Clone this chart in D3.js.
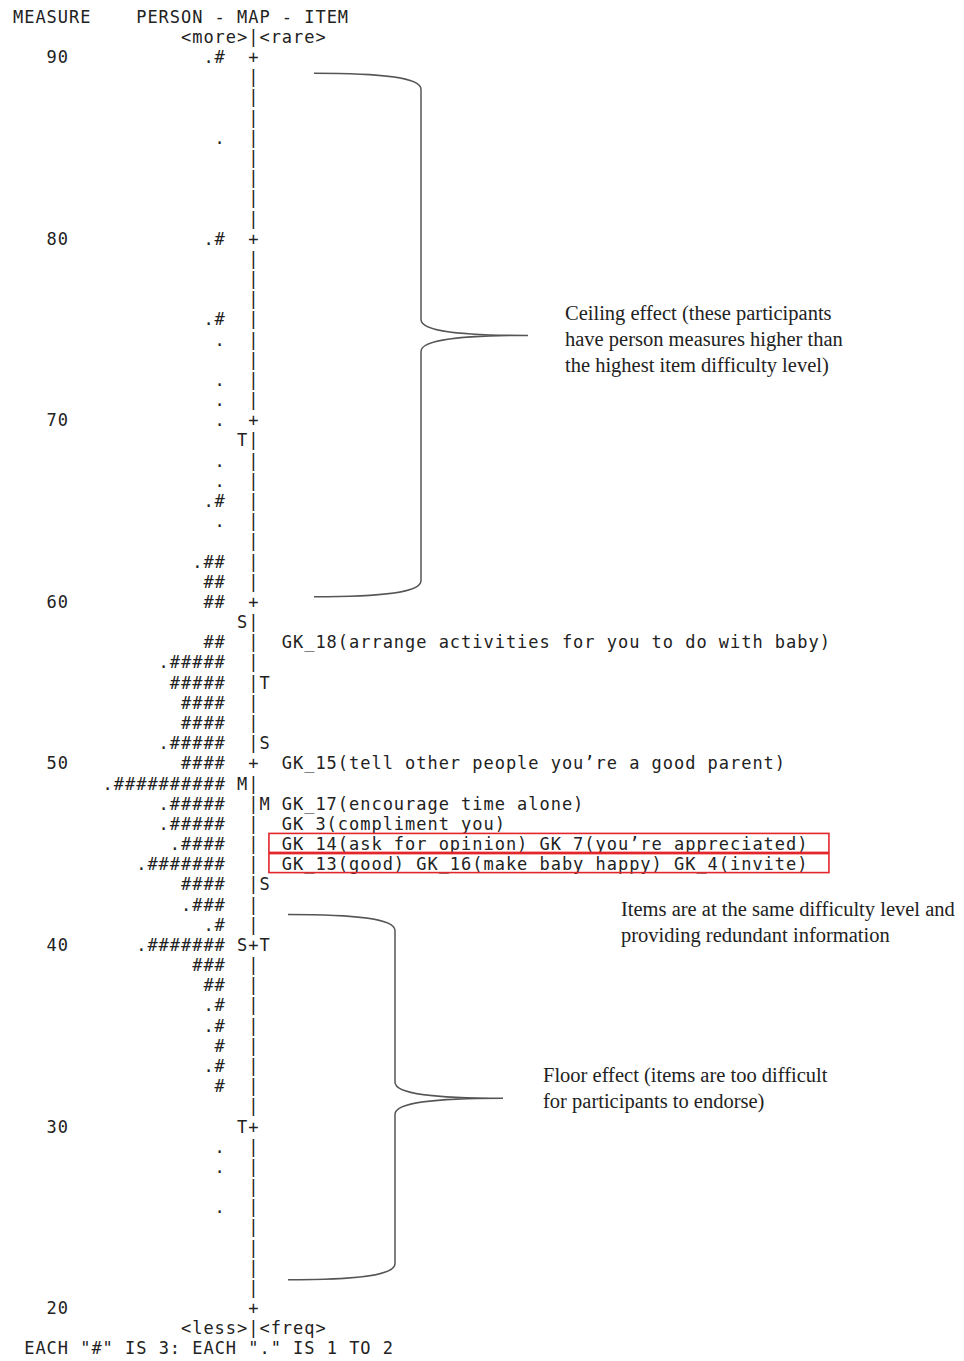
<!DOCTYPE html>
<html>
<head>
<meta charset="utf-8">
<script src="https://cdn.jsdelivr.net/npm/d3@7"></script>
<style>
  body { margin: 0; background: #fff; }
  svg { display: block; }
</style>
</head>
<body>
<div id="chart"></div>
<script>
// person counts per row ("#" = 3 people, "." = 1 to 2), row 0 = measure 90, row 62 = measure 20
var personRows = [
  ".#", "", "", "", ".", "", "", "", "", ".#",
  "", "", "", ".#", ".", "", ".", ".", ".", "",
  ".", ".", ".#", ".", "", ".##", "##", "##", "", "##",
  ".#####", "#####", "####", "####", ".#####", "####", ".##########", ".#####", ".#####", ".####",
  ".#######", "####", ".###", ".#", ".#######", "###", "##", ".#", ".#", "#",
  ".#", "#", "", "", ".", ".", "", ".", "", "",
  "", "", ""
];
var measureTicks = [90, 80, 70, 60, 50, 40, 30, 20];
var tickRows = [0, 9, 18, 27, 35, 44, 53, 62];

var personMarks = [{row: 19, m: "T"}, {row: 28, m: "S"}, {row: 36, m: "M"}, {row: 44, m: "S"}, {row: 53, m: "T"}];
var itemMarks = [{row: 31, m: "T"}, {row: 34, m: "S"}, {row: 37, m: "M"}, {row: 41, m: "S"}, {row: 44, m: "T"}];

var itemRows = [29, 35, 37, 38, 39, 40];
var itemLabels = [
  "GK_18(arrange activities for you to do with baby)",
  "GK_15(tell other people you\u2019re a good parent)",
  "GK_17(encourage time alone)",
  "GK_3(compliment you)",
  "GK_14(ask for opinion) GK_7(you\u2019re appreciated)",
  "GK_13(good) GK_16(make baby happy) GK_4(invite)"
];
var redundantRows = [39, 40];

var notes = [
  {lines: ["Ceiling effect (these participants", "have person measures higher than", "the highest item difficulty level)"], x: 565, row: 12.7},
  {lines: ["Items are at the same difficulty level and", "providing redundant information"], x: 621, row: 42.25},
  {lines: ["Floor effect (items are too difficult", "for participants to endorse)"], x: 543, row: 50.45}
];
var braces = [
  {top: 0.8, mid: 13.8, bot: 26.75, left: 314, spine: 421, tip: 528},
  {top: 42.5, mid: 51.6, bot: 60.6, left: 288, spine: 395, tip: 503}
];

var W = 964, H = 1361;
var nRows = personRows.length;
var pitch = 11.2, fs = 17;
var mono = "'DejaVu Sans Mono', monospace";
var ink = "#222";

// row index -> y centre, column index -> x
var y = d3.scaleLinear().domain([0, nRows - 1]).range([57, 1308]);
var col = d3.scaleLinear().domain([0, 1]).range([13, 13 + pitch]);

var svg = d3.select("#chart").append("svg")
  .attr("width", W).attr("height", H);
svg.append("rect").attr("width", W).attr("height", H).attr("fill", "#fff");

var g = svg.append("g")
  .attr("font-family", mono)
  .attr("font-size", fs)
  .attr("letter-spacing", (pitch - fs * 0.602).toFixed(2))
  .attr("fill", ink);

function line(str, c, r) {
  g.append("text")
    .attr("x", col(c)).attr("y", y(r)).attr("dy", "0.36em")
    .attr("xml:space", "preserve")
    .style("white-space", "pre")
    .text(str);
}

// header / footer
line("MEASURE", 0, -2);
line("PERSON - MAP - ITEM", 11, -2);
line("<more>|<rare>", 15, -1);
line("<less>|<freq>", 15, nRows);
line("EACH \"#\" IS 3: EACH \".\" IS 1 TO 2", 1, nRows + 1);

// axis
d3.range(nRows).forEach(function(r) {
  line(tickRows.indexOf(r) >= 0 ? "+" : "|", 21, r);
});

// measure labels
measureTicks.forEach(function(m, i) {
  var s = String(m);
  line(s, 5 - s.length, tickRows[i]);
});

// persons, right aligned to column 18
personRows.forEach(function(s, r) {
  if (s) line(s, 19 - s.length, r);
});

personMarks.forEach(function(d) { line(d.m, 20, d.row); });
itemMarks.forEach(function(d) { line(d.m, 22, d.row); });

itemLabels.forEach(function(s, i) { line(s, 24, itemRows[i]); });

// red boxes on redundant item rows
svg.selectAll("rect.box").data(redundantRows).enter().append("rect")
  .attr("class", "box")
  .attr("x", col(22.85)).attr("width", col(72.85) - col(22.85))
  .attr("y", function(r) { return y(r) - 10.5; })
  .attr("height", 19)
  .attr("fill", "none").attr("stroke", "#e3262c").attr("stroke-width", 1.6);

// braces
function bracePath(b) {
  var t = y(b.top), m = y(b.mid), bt = y(b.bot), s = b.spine, r = 16;
  var p = d3.path();
  p.moveTo(b.left, t);
  p.bezierCurveTo(s - 40, t, s, t + 4, s, t + r);
  p.lineTo(s, m - r);
  p.bezierCurveTo(s, m - 4, s + 40, m, b.tip, m);
  p.bezierCurveTo(s + 40, m, s, m + 4, s, m + r);
  p.lineTo(s, bt - r);
  p.bezierCurveTo(s, bt - 4, s - 40, bt, b.left, bt);
  return p.toString();
}
svg.selectAll("path.brace").data(braces).enter().append("path")
  .attr("class", "brace")
  .attr("d", bracePath)
  .attr("fill", "none").attr("stroke", "#555").attr("stroke-width", 1.5);

// notes
notes.forEach(function(n) {
  n.lines.forEach(function(t, i) {
    svg.append("text")
      .attr("x", n.x).attr("y", y(n.row) + i * 26).attr("dy", "0.32em")
      .attr("font-family", "'Liberation Serif', 'Times New Roman', serif")
      .attr("font-size", 20.5)
      .attr("fill", ink)
      .text(t);
  });
});
</script>
</body>
</html>
